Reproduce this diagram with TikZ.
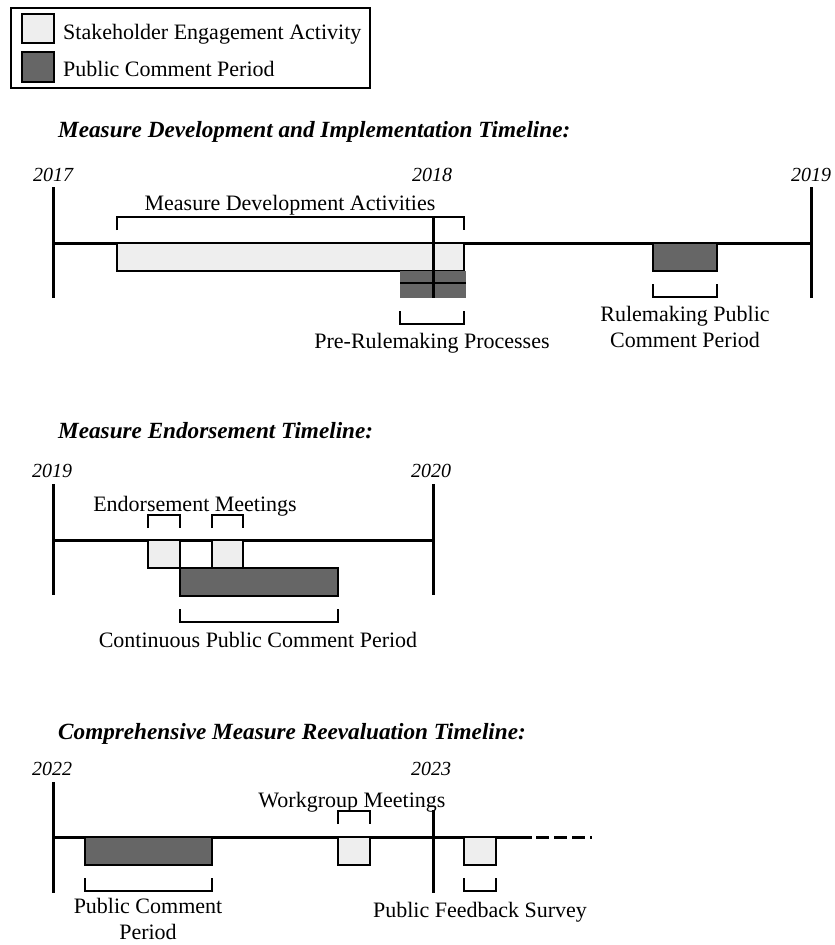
\documentclass[tikz,border=0pt]{standalone}
\usepackage{fontspec}
\setmainfont{Liberation Serif}
\definecolor{lightfill}{HTML}{EEEEEE}
\definecolor{darkfill}{HTML}{666666}
\begin{document}
\begin{tikzpicture}[x=1pt,y=-1pt,
  axis/.style={line width=3pt},
  bracket/.style={line width=2.5pt, line join=miter},
  lightbox/.style={fill=lightfill, draw=black, line width=2.5pt},
  darkbox/.style={fill=darkfill, draw=black, line width=2.5pt},
  txt/.style={font=\fontsize{22}{25}\selectfont, inner sep=0pt, anchor=base},
  yearlbl/.style={font=\fontsize{20}{24}\selectfont\itshape, inner sep=0pt, anchor=base},
  ttl/.style={font=\fontsize{23.2}{27}\selectfont\bfseries\itshape, inner sep=0pt, anchor=base west},
  legtxt/.style={font=\fontsize{22}{25}\selectfont, inner sep=0pt, anchor=base west}]
\useasboundingbox (0,0) rectangle (835,945);

% ---------- Legend ----------
\draw[line width=2.5pt] (11,8) rectangle (370,88);
\draw[lightbox] (22,14) rectangle (54,43);
\draw[darkbox] (22,52) rectangle (54,82);
\node[legtxt] (leg1) at (63,39) {Stakeholder Engagement Activity};
\node[legtxt] (leg2) at (63,76) {Public Comment Period};

% ---------- Timeline 1 ----------
\node[ttl] (t1) at (58,137) {Measure Development and Implementation Timeline:};
\node[yearlbl] (y2017) at (53,181) {2017};
\node[yearlbl] (y2018) at (432,181) {2018};
\node[yearlbl] (y2019a) at (811,181) {2019};
\draw[axis] (53,243) -- (811,243);
\draw[axis] (53,187) -- (53,298);
\draw[axis] (811,187) -- (811,298);
\draw[lightbox] (117,243) rectangle (464,271);
\fill[darkfill] (400,271) rectangle (466,298);
\draw[bracket] (400,283) -- (466,283);
\draw[axis] (433,217) -- (433,298);
\draw[darkbox] (653,243) rectangle (717,271);
% brackets
\draw[bracket] (117,230) -- (117,217) -- (464,217) -- (464,230);
\node[txt] (mda) at (290,210) {Measure Development Activities};
\draw[bracket] (400,311) -- (400,324) -- (464,324) -- (464,311);
\node[txt] (prp) at (432,348) {Pre-Rulemaking Processes};
\draw[bracket] (653,284) -- (653,297) -- (717,297) -- (717,284);
\node[txt] (rp1) at (685,321) {Rulemaking Public};
\node[txt] (rp2) at (685,347) {Comment Period};

% ---------- Timeline 2 ----------
\node[ttl] (t2) at (58,438) {Measure Endorsement Timeline:};
\node[yearlbl] (y2019b) at (52,477) {2019};
\node[yearlbl] (y2020) at (431,477) {2020};
\draw[axis] (53,540) -- (433,540);
\draw[axis] (53,484) -- (53,595);
\draw[axis] (433,484) -- (433,595);
\draw[lightbox] (148,540) rectangle (180,568);
\draw[lightbox] (212,540) rectangle (243,568);
\draw[darkbox] (180,568) rectangle (338,596);
\draw[bracket] (148,528) -- (148,515) -- (180,515) -- (180,528);
\draw[bracket] (212,528) -- (212,515) -- (243,515) -- (243,528);
\node[txt] (em) at (195,511) {Endorsement Meetings};
\draw[bracket] (180,609) -- (180,622) -- (338,622) -- (338,609);
\node[txt] (cpc) at (258,647) {Continuous Public Comment Period};

% ---------- Timeline 3 ----------
\node[ttl] (t3) at (58,739) {Comprehensive Measure Reevaluation Timeline:};
\node[yearlbl] (y2022) at (52,775) {2022};
\node[yearlbl] (y2023) at (431,775) {2023};
\draw[axis] (53,837) -- (532,837);
\draw[axis, dash pattern=on 13pt off 5pt] (536,837) -- (592,837);
\draw[axis] (53,782) -- (53,893);
\draw[axis] (433,810) -- (433,893);
\draw[darkbox] (85,837) rectangle (212,865);
\draw[lightbox] (338,837) rectangle (370,865);
\draw[lightbox] (464,837) rectangle (496,865);
\draw[bracket] (85,878) -- (85,891) -- (212,891) -- (212,878);
\node[txt] (pc1) at (148,913) {Public Comment};
\node[txt] (pc2) at (148,939) {Period};
\draw[bracket] (338,824) -- (338,811) -- (370,811) -- (370,824);
\node[txt] (wm) at (352,807) {Workgroup Meetings};
\draw[bracket] (464,878) -- (464,891) -- (496,891) -- (496,878);
\node[txt] (pfs) at (480,917) {Public Feedback Survey};
\end{tikzpicture}
\end{document}
